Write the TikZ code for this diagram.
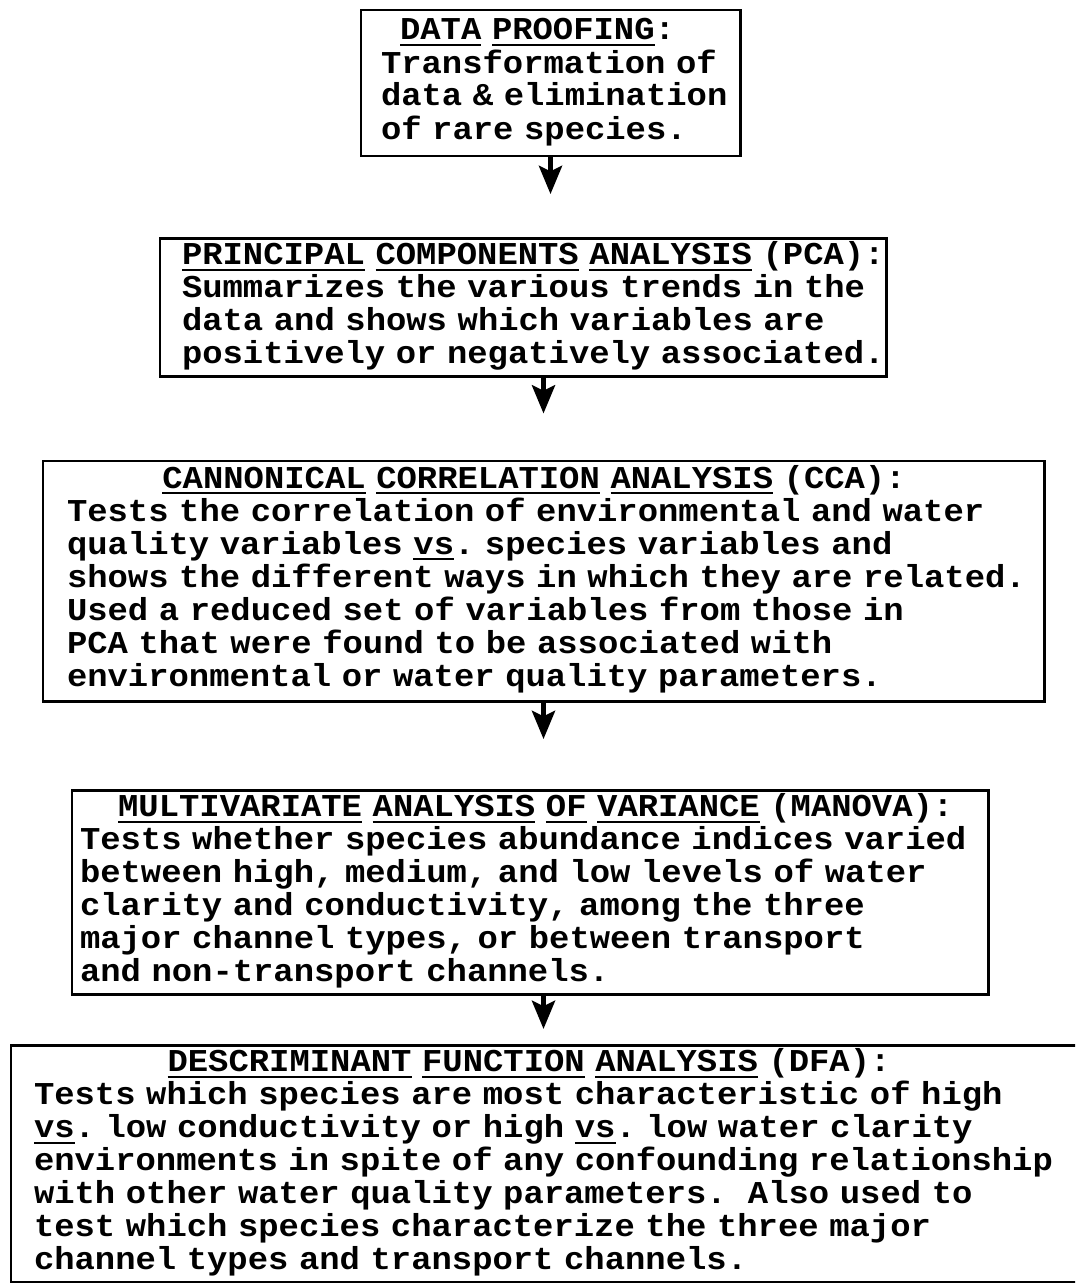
\documentclass[tikz,border=0pt]{standalone}
\usepackage{fontspec}
\setmonofont{Liberation Mono}[FakeStretch=1.065]
\usepackage{tikz}
\usetikzlibrary{arrows.meta,positioning}
\newlength{\stagecell}
\setlength{\stagecell}{10.86pt}
\newcommand{\ulbox}[1]{\setbox0=\hbox{#1}\rlap{\rule[-3.5pt]{\wd0}{1.1pt}}\box0\relax}
\newcommand{\stagefont}{\ttfamily\bfseries\fontsize{18.1pt}{18.45pt}\selectfont}
\tikzset{
  >={Stealth[length=16pt,width=13pt,inset=3pt]},
  stagebox/.style={
    rectangle,
    draw=black, line width=1.7pt,
    inner ysep=2pt,
    font=\stagefont,
    align=left
  },
  flowline/.style={draw, line width=3pt, ->},
}

\begin{document}
\frenchspacing
\begin{tikzpicture}
  \clip[use as bounding box] (0,0) rectangle (21.5,-25.66);
  \node[stagebox, text width=6.78cm, inner xsep=0.40cm, minimum height=2.92cm]
    (dp) at (11.01,-1.66) {\begin{tabular}{@{}l@{}}
    \smash{\hspace*{1\stagecell}\ulbox{DATA} \ulbox{PROOFING}:}\\
    Transformation of\\
    data \& elimination\\
    of rare species.
    \end{tabular}};
  \node[stagebox, text width=13.64cm, inner xsep=0.44cm, minimum height=2.74cm]
    (pca) at (10.46,-6.15) {\begin{tabular}{@{}l@{}}
    \smash{\ulbox{PRINCIPAL} \ulbox{COMPONENTS} \ulbox{ANALYSIS} (PCA):}\\
    Summarizes the various trends in the\\
    data and shows which variables are\\
    positively or negatively associated.
    \end{tabular}};
  \node[stagebox, text width=19.06cm, inner xsep=0.48cm, minimum height=4.80cm]
    (cca) at (10.87,-11.62) {\begin{tabular}{@{}l@{}}
    \smash{\hspace*{5\stagecell}\ulbox{CANNONICAL} \ulbox{CORRELATION} \ulbox{ANALYSIS} (CCA):}\\
    Tests the correlation of environmental and water\\
    quality variables \ulbox{vs}. species variables and\\
    shows the different ways in which they are related.\\
    Used a reduced set of variables from those in\\
    PCA that were found to be associated with\\
    environmental or water quality parameters.
    \end{tabular}};
  \node[stagebox, text width=18.00cm, inner xsep=0.16cm, minimum height=4.02cm]
    (manova) at (10.60,-17.85) {\begin{tabular}{@{}l@{}}
    \smash{\hspace*{2\stagecell}\ulbox{MULTIVARIATE} \ulbox{ANALYSIS} \ulbox{OF} \ulbox{VARIANCE} (MANOVA):}\\
    Tests whether species abundance indices varied\\
    between high, medium, and low levels of water\\
    clarity and conductivity, among the three\\
    major channel types, or between transport\\
    and non-transport channels.
    \end{tabular}};
  \node[stagebox, text width=20.86cm, inner xsep=0.46cm, minimum height=4.68cm]
    (dfa) at (11.11,-23.28) {\begin{tabular}{@{}l@{}}
    \smash{\hspace*{7\stagecell}\ulbox{DESCRIMINANT} \ulbox{FUNCTION} \ulbox{ANALYSIS} (DFA):}\\
    Tests which species are most characteristic of high\\
    \ulbox{vs}. low conductivity or high \ulbox{vs}. low water clarity\\
    environments in spite of any confounding relationship\\
    with other water quality parameters.~~Also used to\\
    test which species characterize the three major\\
    channel types and transport channels.
    \end{tabular}};
  % arrows stop short of the next box
  \draw[flowline, shorten >=0.86cm] (dp.south) -- (pca.north -| dp.south);
  \draw[flowline, shorten >=0.92cm] (pca.south -| cca.south) -- (cca.north);
  \draw[flowline, shorten >=1.00cm] (cca.south) -- (manova.north -| cca.south);
  \draw[flowline, shorten >=0.30cm] (manova.south -| cca.south) -- (dfa.north -| cca.south);
\end{tikzpicture}
\end{document}
